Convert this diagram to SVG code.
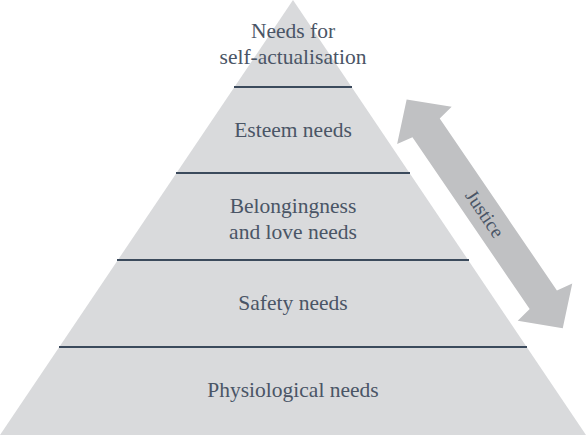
<svg xmlns="http://www.w3.org/2000/svg" width="586" height="435" viewBox="0 0 586 435">
<style>
text{font-family:"Liberation Serif","Times New Roman",serif;font-size:21.5px;fill:#4a5566;text-anchor:middle}
.sep{stroke:#3b4a5c;stroke-width:2}
</style>
<rect width="586" height="435" fill="#ffffff"/>
<g id="pyramid"><polygon points="293,0 586,435 0,435" fill="#d9dadc"/></g>
<g id="connectors">
<line class="sep" x1="234" y1="87" x2="352" y2="87"/>
<line class="sep" x1="176" y1="173" x2="410" y2="173"/>
<line class="sep" x1="117" y1="260" x2="469" y2="260"/>
<line class="sep" x1="59" y1="347" x2="527" y2="347"/>
</g>
<g id="level5"><text x="293" y="38">Needs for</text><text x="293" y="64">self-actualisation</text></g>
<g id="level4"><text x="293" y="137">Esteem needs</text></g>
<g id="level3"><text x="293" y="213">Belongingness</text><text x="293" y="239">and love needs</text></g>
<g id="level2"><text x="293" y="310">Safety needs</text></g>
<g id="level1"><text x="293" y="397">Physiological needs</text></g>
<g id="justice" transform="translate(484.7,213.8) rotate(55.7)">
<polygon points="-138.5,0 -107,-33 -104,-16.5 104,-16.5 107,-33 138.5,0 107,33 104,16.5 -104,16.5 -107,33" fill="#c0c1c3"/>
<text x="0" y="6.5" style="font-size:19.5px">Justice</text>
</g>
</svg>
